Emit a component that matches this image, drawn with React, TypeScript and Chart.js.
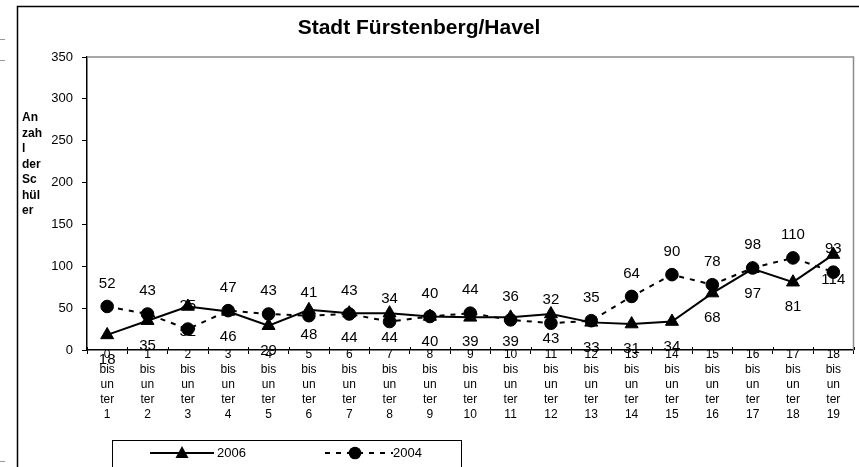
import { useEffect, useRef } from "react";
import { Chart, registerables } from "chart.js";

Chart.register(...registerables);

const FONT = '"Liberation Sans", Arial, Helvetica, sans-serif';

const chartTitle = "Stadt Fürstenberg/Havel";
const yTitleLines = ["An", "zah", "l", "der", "Sc", "hül", "er"];

const categories = [
  ["0", "bis", "un", "ter", "1"],
  ["1", "bis", "un", "ter", "2"],
  ["2", "bis", "un", "ter", "3"],
  ["3", "bis", "un", "ter", "4"],
  ["4", "bis", "un", "ter", "5"],
  ["5", "bis", "un", "ter", "6"],
  ["6", "bis", "un", "ter", "7"],
  ["7", "bis", "un", "ter", "8"],
  ["8", "bis", "un", "ter", "9"],
  ["9", "bis", "un", "ter", "10"],
  ["10", "bis", "un", "ter", "11"],
  ["11", "bis", "un", "ter", "12"],
  ["12", "bis", "un", "ter", "13"],
  ["13", "bis", "un", "ter", "14"],
  ["14", "bis", "un", "ter", "15"],
  ["15", "bis", "un", "ter", "16"],
  ["16", "bis", "un", "ter", "17"],
  ["17", "bis", "un", "ter", "18"],
  ["18", "bis", "un", "ter", "19"],
];

const values2006 = [18, 35, 52, 46, 29, 48, 44, 44, 40, 39, 39, 43, 33, 31, 34, 68, 97, 81, 114];
const values2004 = [52, 43, 25, 47, 43, 41, 43, 34, 40, 44, 36, 32, 35, 64, 90, 78, 98, 110, 93];

const yMin = 0;
const yMax = 350;
const yStep = 50;

const legendLabels = ["2006", "2004"];

const overlayPlugin = {
  id: "overlay",
  beforeDraw(chart: any) {
    const { ctx, width, height } = chart;
    ctx.save();
    ctx.fillStyle = "#fff";
    ctx.fillRect(0, 0, width, height);
    ctx.restore();
  },
  beforeDatasetsDraw(chart: any) {
    const { ctx, chartArea } = chart;
    ctx.save();
    ctx.strokeStyle = "#8c8c8c";
    ctx.lineWidth = 1.5;
    ctx.beginPath();
    ctx.moveTo(chartArea.left, chartArea.top);
    ctx.lineTo(chartArea.right, chartArea.top);
    ctx.lineTo(chartArea.right, chartArea.bottom);
    ctx.stroke();
    // upper half of the crossing x tick marks
    const xs = chart.scales.x;
    const n = xs.ticks.length;
    ctx.strokeStyle = "#000";
    ctx.lineWidth = 1;
    for (let i = 0; i <= n; i++) {
      let px;
      if (i === 0) px = chartArea.left;
      else if (i === n) px = chartArea.right;
      else px = (xs.getPixelForTick(i - 1) + xs.getPixelForTick(i)) / 2;
      const x = Math.round(px) + 0.5;
      ctx.beginPath();
      ctx.moveTo(x, chartArea.bottom - 3);
      ctx.lineTo(x, chartArea.bottom);
      ctx.stroke();
    }
    ctx.restore();
  },
  afterDatasetsDraw(chart: any) {
    const { ctx } = chart;
    ctx.save();
    ctx.font = `15px ${FONT}`;
    ctx.fillStyle = "#000";
    ctx.textAlign = "center";
    ctx.textBaseline = "middle";
    chart.data.datasets.forEach((ds: any, i: number) => {
      const meta = chart.getDatasetMeta(i);
      meta.data.forEach((pt: any, j: number) => {
        ctx.fillText(String(ds.data[j]), pt.x, pt.y + ds.labelOffset);
      });
    });
    ctx.restore();
  },
  afterDraw(chart: any) {
    const { ctx } = chart;
    ctx.save();
    // outer frame
    ctx.strokeStyle = "#000";
    ctx.lineWidth = 1.5;
    ctx.beginPath();
    ctx.moveTo(17.5, 467);
    ctx.lineTo(17.5, 6.5);
    ctx.lineTo(862, 6.5);
    ctx.stroke();
    // small stray marks at far left
    ctx.strokeStyle = "#999";
    ctx.lineWidth = 1;
    [39.5, 60.5, 461.5].forEach((y) => {
      ctx.beginPath();
      ctx.moveTo(0, y);
      ctx.lineTo(5, y);
      ctx.stroke();
    });
    // title
    ctx.fillStyle = "#000";
    ctx.font = `bold 21px ${FONT}`;
    ctx.textAlign = "center";
    ctx.textBaseline = "middle";
    ctx.fillText(chartTitle, 419, 28);
    // y title
    ctx.font = `bold 12px ${FONT}`;
    ctx.textAlign = "left";
    yTitleLines.forEach((line, i) => {
      ctx.fillText(line, 22, 118 + i * 15.5);
    });
    // legend box
    ctx.strokeStyle = "#000";
    ctx.lineWidth = 1;
    ctx.strokeRect(112.5, 440.5, 349, 40);
    const ly = 453;
    // 2006
    ctx.lineWidth = 2;
    ctx.beginPath();
    ctx.moveTo(150, ly);
    ctx.lineTo(214, ly);
    ctx.stroke();
    ctx.fillStyle = "#000";
    ctx.beginPath();
    ctx.moveTo(182, ly - 7);
    ctx.lineTo(188.5, ly + 5);
    ctx.lineTo(175.5, ly + 5);
    ctx.closePath();
    ctx.fill();
    ctx.font = `13px ${FONT}`;
    ctx.textAlign = "left";
    ctx.textBaseline = "middle";
    ctx.fillText(legendLabels[0], 217, ly);
    // 2004
    ctx.setLineDash([5, 6]);
    ctx.beginPath();
    ctx.moveTo(325, ly);
    ctx.lineTo(393, ly);
    ctx.stroke();
    ctx.setLineDash([]);
    ctx.beginPath();
    ctx.arc(355, ly, 6.3, 0, Math.PI * 2);
    ctx.fill();
    ctx.fillText(legendLabels[1], 393, ly);
    ctx.restore();
  },
};

export default function App() {
  const canvasRef = useRef<HTMLCanvasElement | null>(null);

  useEffect(() => {
    const canvas = canvasRef.current;
    if (!canvas) return;
    const chart = new Chart(canvas, {
      type: "line",
      data: {
        labels: categories as any,
        datasets: [
          {
            label: legendLabels[0],
            data: values2006,
            borderColor: "#000",
            backgroundColor: "#000",
            borderWidth: 2,
            pointStyle: "triangle",
            pointRadius: 7.5,
            pointBorderWidth: 1,
            pointBackgroundColor: "#000",
            pointBorderColor: "#000",
            tension: 0,
            fill: false,
            labelOffset: 25,
          } as any,
          {
            label: legendLabels[1],
            data: values2004,
            borderColor: "#000",
            backgroundColor: "#000",
            borderWidth: 2,
            borderDash: [5, 6],
            pointStyle: "circle",
            pointRadius: 6.3,
            pointBorderWidth: 1,
            pointBackgroundColor: "#000",
            pointBorderColor: "#000",
            tension: 0,
            fill: false,
            labelOffset: -23,
          } as any,
        ],
      },
      options: {
        responsive: false,
        animation: false,
        devicePixelRatio: 1,
        layout: { padding: { top: 57, right: 2, left: 0, bottom: 0 } },
        plugins: {
          legend: { display: false },
          title: { display: false },
          tooltip: { enabled: false },
        },
        scales: {
          x: {
            type: "category",
            offset: true,
            grid: {
              display: true,
              drawOnChartArea: false,
              drawTicks: true,
              tickLength: 4,
              color: "#000",
              lineWidth: 1,
              offset: true,
            },
            border: { display: true, color: "#000", width: 1.5 },
            ticks: {
              autoSkip: false,
              maxRotation: 0,
              minRotation: 0,
              padding: -7,
              color: "#000",
              font: { family: FONT, size: 12, lineHeight: 1.25 },
            },
            afterFit(s: any) {
              s.height = 117;
              s.paddingLeft = 0;
              s.paddingRight = 0;
            },
          },
          y: {
            min: yMin,
            max: yMax,
            ticks: {
              stepSize: yStep,
              padding: 9,
              color: "#000",
              font: { family: FONT, size: 13 },
            },
            grid: {
              drawOnChartArea: false,
              drawTicks: true,
              tickLength: 5,
              color: "#000",
            },
            border: { display: true, color: "#000", width: 1.5 },
            afterFit(s: any) {
              s.width = 87;
            },
          },
        },
      } as any,
      plugins: [overlayPlugin],
    });
    return () => chart.destroy();
  }, []);

  return (
    <div style={{ position: "absolute", left: 0, top: 0, width: 859, height: 467, overflow: "hidden", background: "#fff" }}>
      <canvas ref={canvasRef} width={862} height={467} style={{ display: "block" }} />
    </div>
  );
}
